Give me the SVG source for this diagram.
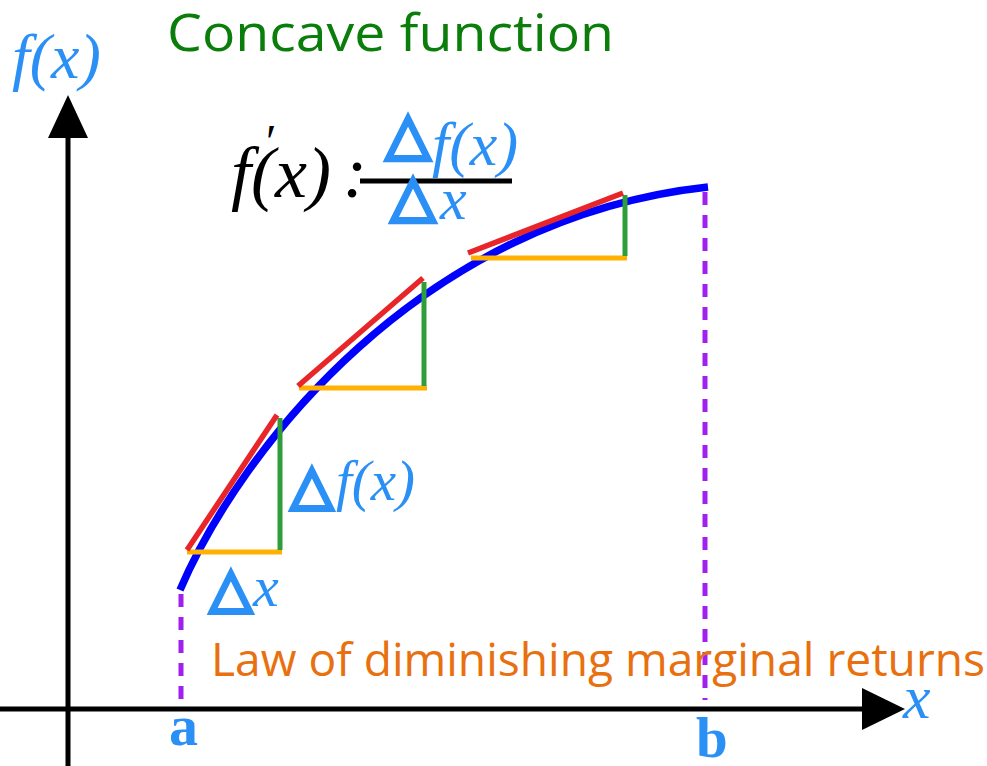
<svg xmlns="http://www.w3.org/2000/svg" width="987" height="766" viewBox="0 0 987 766">
<style>
.ax{stroke:#000;stroke-width:5;fill:none}
.dash{stroke:#a020f0;stroke-width:5;stroke-dasharray:13 10;fill:none}
.red{stroke:#e8262a;stroke-width:5.5;fill:none}
.grn{stroke:#2e9e3a;stroke-width:5;fill:none}
.org{stroke:#ffb000;stroke-width:5;fill:none}
.mi{font-family:"Liberation Serif",serif;font-style:italic;fill:#2b90f5}
.tri{font-family:"DejaVu Sans",sans-serif;fill:#2b90f5;stroke:#2b90f5;stroke-width:4;text-anchor:middle}
.lbl{font-family:"Liberation Serif",serif;font-weight:bold;fill:#2b90f5}
</style>
<rect width="987" height="766" fill="#fff"/>
<g id="axes">
<line class="ax" x1="68" y1="766" x2="68" y2="130"/>
<polygon points="68,95 48,138 88,138" fill="#000"/>
<line class="ax" x1="0" y1="709" x2="868" y2="709"/>
<polygon points="905,709 862,688 862,730" fill="#000"/>
</g>
<g id="title"><text x="167" y="51" font-family="Open Sans, sans-serif" font-size="52" fill="#0a7d0a" textLength="447" lengthAdjust="spacingAndGlyphs">Concave function</text></g>
<g id="ylabel"><text class="mi" x="12" y="78" font-size="64">f(x)</text></g>
<g id="xlabel"><text class="mi" x="903" y="718" font-size="62">x</text></g>
<g id="derivative">
<text x="231" y="197" font-family="Liberation Serif, serif" font-style="italic" font-size="72" fill="#000">f(x)</text>
<text x="343" y="197" font-family="Liberation Serif, serif" font-style="italic" font-size="72" fill="#000">:</text>
<text x="266" y="158" font-family="Liberation Serif, serif" font-size="48" fill="#000">′</text>
<line x1="360" y1="181" x2="512" y2="181" stroke="#000" stroke-width="5"/>
<text class="tri" x="408" y="153" font-size="58">△</text>
<text class="mi" x="432" y="165" font-size="62">f(x)</text>
<text class="tri" x="413" y="215" font-size="58">△</text>
<text class="mi" x="440" y="219" font-size="60">x</text>
</g>
<g id="connectors">
<path d="M180,590 C240,450 420,218 708,187" stroke="#0000ff" stroke-width="7.5" fill="none"/>
<line class="dash" x1="181" y1="594" x2="181" y2="700"/>
<line class="dash" x1="705" y1="192" x2="705" y2="700"/>
<line class="org" x1="187" y1="552" x2="282" y2="552"/>
<line class="grn" x1="280" y1="418" x2="280" y2="550"/>
<line class="red" x1="187" y1="550" x2="277" y2="415"/>
<line class="org" x1="299" y1="388" x2="427" y2="388"/>
<line class="grn" x1="424" y1="282" x2="424" y2="386"/>
<line class="red" x1="298" y1="386" x2="423" y2="278"/>
<line class="org" x1="471" y1="258" x2="627" y2="258"/>
<line class="grn" x1="625" y1="195" x2="625" y2="256"/>
<line class="red" x1="468" y1="253" x2="623" y2="193"/>
</g>
<g id="dfx"><text class="tri" x="312" y="503" font-size="55">△</text><text class="mi" x="336" y="500" font-size="57">f(x)</text></g>
<g id="dx"><text class="tri" x="231" y="606" font-size="55">△</text><text class="mi" x="253" y="606" font-size="58">x</text></g>
<g id="law"><text x="211" y="676" font-family="Open Sans, sans-serif" font-size="45" fill="#e8700e" textLength="774" lengthAdjust="spacingAndGlyphs">Law of diminishing marginal returns</text></g>
<g id="a"><text class="lbl" x="169" y="745" font-size="58">a</text></g>
<g id="b"><text class="lbl" x="696" y="757" font-size="57">b</text></g>
</svg>
